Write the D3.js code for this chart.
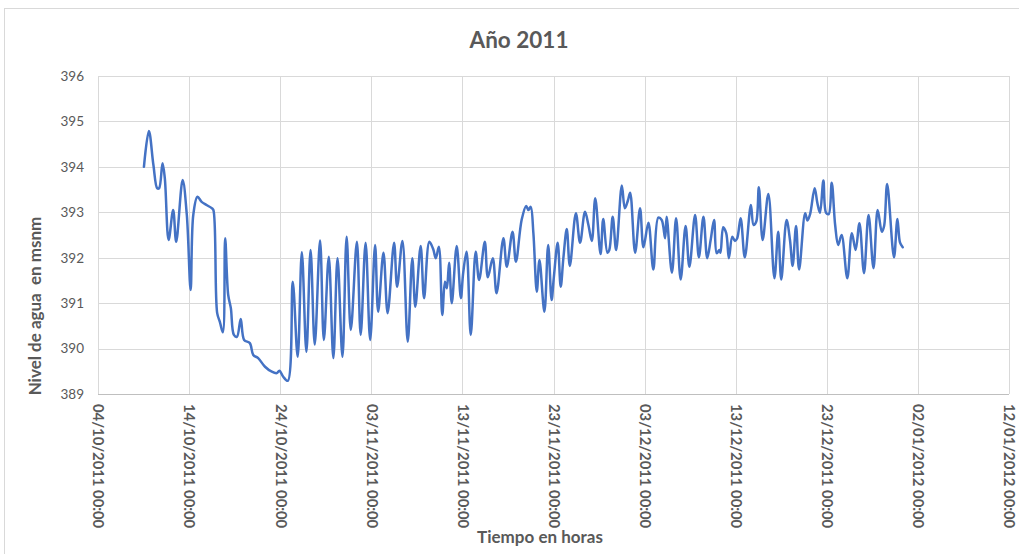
<!DOCTYPE html>
<html><head><meta charset="utf-8">
<script src="https://cdn.jsdelivr.net/npm/d3@7"></script>
<style>
html,body{margin:0;padding:0;background:#fff;}
svg text{font-family:Lato,"Open Sans",sans-serif;}
</style></head>
<body><svg id="c" width="1019" height="554"></svg>
<script>
// days after 04/10/2011 00:00
const dayOffsets = [5.05,5.60,6.07,6.51,6.70,7.10,7.35,7.76,8.27,8.59,9.30,9.74,10.18,10.46,10.90,11.38,11.93,12.48,12.66,13.10,13.39,13.69,13.97,14.30,14.57,14.93,15.23,15.66,16.03,16.68,17.05,17.60,18.33,19.07,19.62,19.90,20.34,20.82,21.37,21.92,22.39,22.87,23.35,23.79,24.37,24.78,25.32,25.83,
26.31,26.82,27.30,27.77,28.40,28.84,29.39,29.86,30.41,30.77,31.32,31.80,32.49,32.85,33.40,34.00,34.50,34.83,35.42,35.79,36.37,36.81,37.10,37.43,37.79,38.09,38.28,38.53,38.83,39.37,39.85,40.10,40.47,40.91,41.46,41.82,42.45,42.78,43.33,43.77,44.49,44.86,45.48,45.88,46.51,
46.98,47.23,47.50,47.78,48.16,48.44,48.99,49.43,49.80,50.06,50.46,50.79,51.08,51.45,51.81,52.47,52.91,53.46,53.82,54.19,54.59,55.18,55.47,55.91,56.13,56.50,56.86,57.49,57.82,58.15,58.43,58.95,59.50,59.86,60.41,60.96,61.51,61.88,62.24,62.43,62.98,63.45,63.96,64.51,64.91,65.53,65.97,66.44,66.88,67.26,
67.62,67.91,68.20,68.35,68.64,68.94,69.27,69.63,69.93,70.18,70.55,71.02,71.65,71.94,72.23,72.56,72.96,73.58,74.24,74.68,74.98,75.60,75.96,76.26,76.62,76.95,77.61,77.86,78.16,78.67,78.96,79.25,79.62,79.91,80.21,80.54,80.90,81.27,81.64,82.25,82.73,83.17,83.57,84.08,84.60,85.11,85.59,86.03,86.28,86.64,87.38,87.74,88.04,88.33];
const levels = [394.00,394.79,394.04,393.53,393.53,394.08,393.75,392.39,393.05,392.35,393.71,392.94,391.29,392.94,393.34,393.23,393.16,393.09,393.05,390.78,390.59,390.36,392.43,391.18,390.89,390.30,390.26,390.65,390.19,390.12,389.86,389.79,389.60,389.49,389.46,389.51,389.38,389.29,391.47,389.82,392.12,389.93,392.17,390.09,392.38,390.19,392.02,389.79,
391.99,389.82,392.46,390.41,392.35,390.30,392.33,390.19,392.28,390.81,392.11,390.78,392.33,391.36,392.37,390.15,391.99,390.92,392.26,391.11,392.35,392.19,391.99,392.24,390.74,391.47,391.33,391.89,391.00,392.26,391.11,391.66,392.13,390.30,392.13,391.51,392.35,391.57,391.99,391.22,392.43,391.80,392.57,391.91,392.83,
393.14,393.05,393.12,392.54,391.25,391.95,390.81,392.28,391.07,391.58,392.33,391.36,391.99,392.63,391.82,392.98,392.33,393.01,392.72,392.37,393.31,392.08,392.85,392.11,392.17,392.90,392.17,393.59,393.09,393.26,393.43,392.11,393.09,392.23,392.77,391.74,392.88,392.83,392.43,392.90,391.67,392.87,391.52,392.70,391.80,392.94,392.01,392.90,391.99,392.39,
392.83,392.10,392.17,392.11,392.67,392.54,391.99,392.46,392.37,392.43,392.87,392.01,393.16,392.72,392.79,393.55,392.39,393.40,391.55,392.57,391.52,392.83,392.39,391.82,392.70,391.74,392.98,392.82,392.96,393.53,393.21,392.99,393.70,392.99,392.96,393.65,392.72,392.28,392.50,391.55,392.54,392.17,392.76,391.66,392.94,391.77,393.05,392.57,392.70,393.62,392.01,392.85,392.33,392.23];
const yTicks = [389,390,391,392,393,394,395,396];
const xTickLabels = ["04/10/2011 00:00","14/10/2011 00:00","24/10/2011 00:00","03/11/2011 00:00","13/11/2011 00:00","23/11/2011 00:00","03/12/2011 00:00","13/12/2011 00:00","23/12/2011 00:00","02/01/2012 00:00","12/01/2012 00:00"];
const title = "Año 2011";
const yLabel = "Nivel de agua  en msnm";
const xLabel = "Tiempo en horas";

const svg = d3.select("#c");
const start = new Date(2011, 9, 4);
const end = new Date(2012, 0, 12);
const parseTick = d3.timeParse("%d/%m/%Y %H:%M");
const data = dayOffsets.map((d, i) => ({t: d3.timeHour.offset(start, Math.round(d * 24)), v: levels[i]}));

const L = 98, R = 1009, T = 76, B = 394;
const x = d3.scaleTime().domain([start, end]).range([L, R]);
const y = d3.scaleLinear().domain([389, 396]).range([B, T]);

// chart border
svg.append("rect").attr("x", 4.5).attr("y", 8.5).attr("width", 1030).attr("height", 560)
  .attr("fill", "none").attr("stroke", "#d9d9d9");

// gridlines
const tickDates = xTickLabels.map(parseTick);
svg.append("g").selectAll("line").data(yTicks).join("line")
  .attr("x1", L).attr("x2", R).attr("y1", d => Math.round(y(d)) + 0.5).attr("y2", d => Math.round(y(d)) + 0.5)
  .attr("stroke", d => d === 389 ? "#bfbfbf" : "#d9d9d9").attr("stroke-width", 1);
svg.append("g").selectAll("line").data(tickDates).join("line")
  .attr("x1", d => Math.round(x(d)) + 0.5).attr("x2", d => Math.round(x(d)) + 0.5)
  .attr("y1", T).attr("y2", B)
  .attr("stroke", "#d9d9d9").attr("stroke-width", 1);

// y axis labels
const yAxis = d3.axisLeft(y).tickValues(yTicks).tickSize(0).tickPadding(14).tickFormat(d3.format("d"));
const gy = svg.append("g").attr("transform", `translate(${L},0)`).call(yAxis);
gy.select(".domain").remove();
gy.selectAll("text").attr("font-size", 13.5).attr("fill", "#595959").style("font-family", "Lato, sans-serif");

// x axis labels
const xAxis = d3.axisBottom(x).tickValues(tickDates).tickSize(0).tickFormat(d3.timeFormat("%d/%m/%Y %H:%M"));
const gx = svg.append("g").attr("transform", `translate(0,${B})`).call(xAxis);
gx.select(".domain").remove();
gx.selectAll("text")
  .attr("font-size", 14.8).attr("font-weight", "bold").attr("fill", "#595959")
  .attr("text-anchor", "start").attr("dy", "0.35em")
  .attr("transform", "translate(0,10) rotate(90)")
  .attr("x", 0).attr("y", 0)
  .style("font-family", "Lato, sans-serif");

// line
const line = d3.line().x(d => x(d.t)).y(d => y(d.v)).curve(d3.curveCatmullRom.alpha(0.5));
svg.append("path").datum(data).attr("d", line)
  .attr("fill", "none").attr("stroke", "#4472c4").attr("stroke-width", 2.5)
  .attr("stroke-linejoin", "round").attr("stroke-linecap", "round");

// title & axis titles
svg.append("text").attr("x", 519).attr("y", 48).attr("text-anchor", "middle")
  .attr("font-size", 22.5).attr("font-weight", "bold").attr("fill", "#595959").text(title);
svg.append("text").attr("transform", "translate(41,306) rotate(-90)").attr("text-anchor", "middle")
  .attr("font-size", 17).attr("font-weight", "bold").attr("fill", "#595959")
  .attr("xml:space", "preserve").style("white-space", "pre").text(yLabel);
svg.append("text").attr("x", 540).attr("y", 543).attr("text-anchor", "middle")
  .attr("font-size", 17).attr("font-weight", "bold").attr("fill", "#595959").text(xLabel);
</script></body></html>
